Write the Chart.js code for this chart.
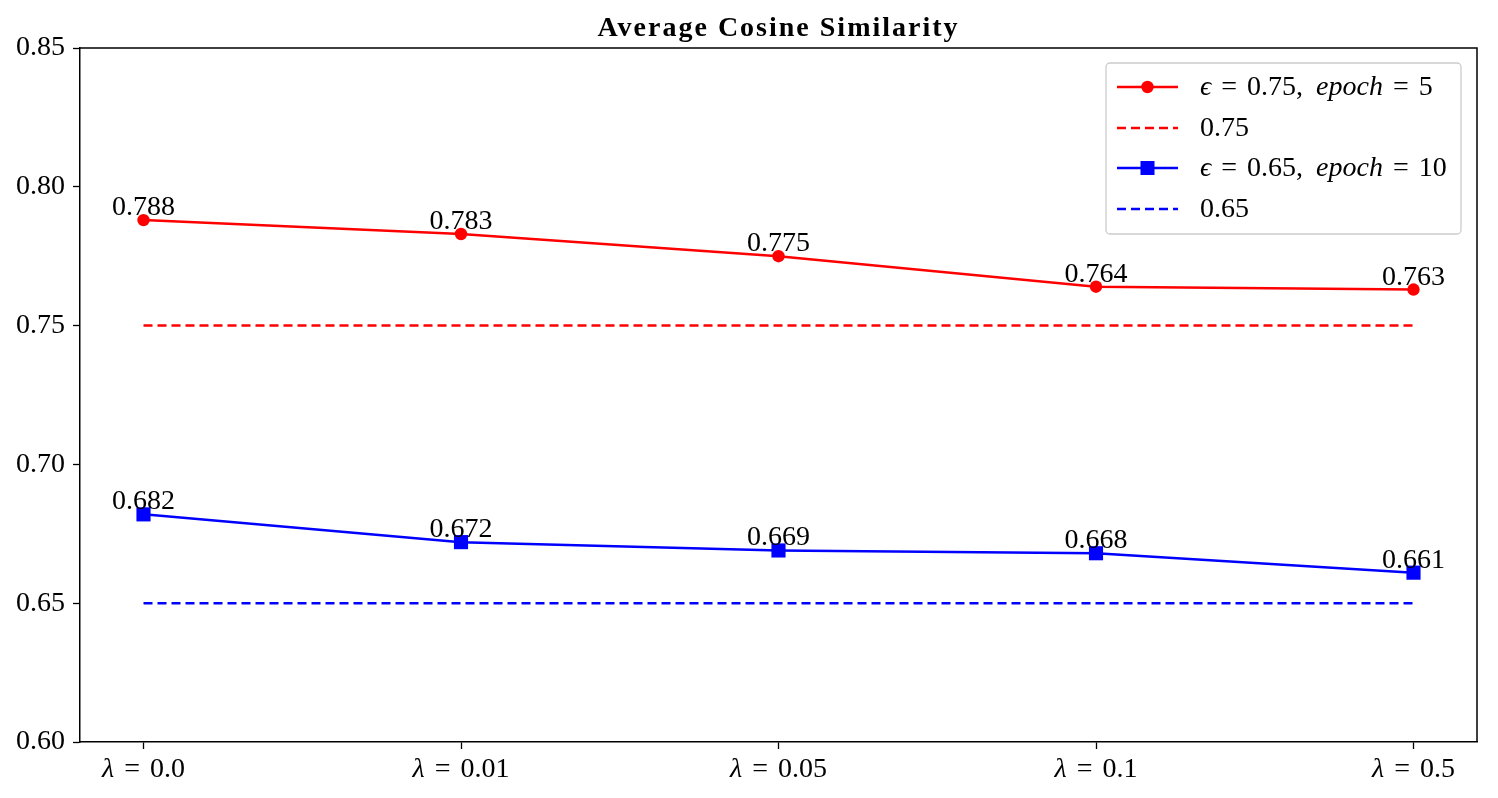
<!DOCTYPE html>
<html>
<head>
<meta charset="utf-8">
<script src="https://cdn.jsdelivr.net/npm/chart.js@4.4.1/dist/chart.umd.min.js"></script>
<style>
html,body{margin:0;padding:0;background:#fff;}
canvas{display:block;}
</style>
</head>
<body>
<canvas id="c" width="1498" height="798"></canvas>
<script>
// ---- data ----
const lambdaLabels = ['0.0', '0.01', '0.05', '0.1', '0.5'];
const series1Values = [0.788, 0.783, 0.775, 0.764, 0.763];   // eps=0.75, epoch=5
const series2Values = [0.682, 0.672, 0.669, 0.668, 0.661];   // eps=0.65, epoch=10
const threshold1 = 0.75;
const threshold2 = 0.65;
const yTicks = [0.60, 0.65, 0.70, 0.75, 0.80, 0.85];
const titleText = 'Average Cosine Similarity';

const SERIF = "'Liberation Serif', 'DejaVu Serif', serif";
const FS = 28;
const GAP = 10;
const LW = 2.5;

const pts = arr => arr.map((v, i) => ({x: i, y: v}));
const flat = v => lambdaLabels.map((_, i) => ({x: i, y: v}));

// rich-text helper: items are [text, italic] or a number (gap in px)
function drawRich(ctx, segs, x, y, align) {
  let total = 0;
  const widths = segs.map(s => {
    if (typeof s === 'number') { total += s; return s; }
    ctx.font = (s[1] ? 'italic ' : '') + FS + 'px ' + SERIF;
    const w = ctx.measureText(s[0]).width; total += w; return w;
  });
  let cx = align === 'center' ? x - total / 2 : x;
  segs.forEach((s, k) => {
    if (typeof s !== 'number') {
      ctx.font = (s[1] ? 'italic ' : '') + FS + 'px ' + SERIF;
      ctx.textAlign = 'left';
      ctx.fillText(s[0], cx, y);
    }
    cx += widths[k];
  });
}

const epsSegs = (eps, ep) => [['\u03F5', true], GAP, ['=', false], GAP, [eps + ',', false], GAP + 3, ['epoch', true], GAP, ['=', false], GAP, [ep, false]];

const legendItems = [
  {segs: epsSegs('0.75', '5'), color: '#ff0000', dash: false, marker: 'circle'},
  {segs: [['0.75', false]], color: '#ff0000', dash: true, marker: null},
  {segs: epsSegs('0.65', '10'), color: '#0000ff', dash: false, marker: 'rect'},
  {segs: [['0.65', false]], color: '#0000ff', dash: true, marker: null}
];

const customDraw = {
  id: 'customDraw',
  afterDraw(chart) {
    const ctx = chart.ctx;
    const a = chart.chartArea;
    const xs = chart.scales.x, ys = chart.scales.y;
    ctx.save();
    // top and right spines
    ctx.strokeStyle = '#000'; ctx.lineWidth = 1.5;
    ctx.beginPath();
    ctx.moveTo(a.left, a.top); ctx.lineTo(a.right, a.top); ctx.lineTo(a.right, a.bottom);
    ctx.stroke();
    // title
    ctx.fillStyle = '#000';
    ctx.font = 'bold 28px ' + SERIF;
    if ('letterSpacing' in ctx) ctx.letterSpacing = '2px';
    ctx.textAlign = 'center'; ctx.textBaseline = 'alphabetic';
    ctx.fillText(titleText, (a.left + a.right) / 2, 36);
    if ('letterSpacing' in ctx) ctx.letterSpacing = '0px';
    // x tick labels
    lambdaLabels.forEach((lab, i) => {
      drawRich(ctx, [['\u03BB', true], GAP, ['=', false], GAP, [lab, false]], xs.getPixelForValue(i), a.bottom + 35, 'center');
    });
    // data labels
    ctx.font = FS + 'px ' + SERIF;
    ctx.textAlign = 'center';
    [series1Values, series2Values].forEach(arr => {
      arr.forEach((v, i) => {
        ctx.fillText(v.toFixed(3), xs.getPixelForValue(i), ys.getPixelForValue(v) - 5);
      });
    });
    // legend
    const lx = 1106, ly = 63, lw = 355, lh = 171;
    ctx.fillStyle = 'rgba(255,255,255,0.8)';
    ctx.strokeStyle = '#cccccc'; ctx.lineWidth = 1.3;
    ctx.beginPath();
    if (ctx.roundRect) ctx.roundRect(lx, ly, lw, lh, 4); else ctx.rect(lx, ly, lw, lh);
    ctx.fill(); ctx.stroke();
    const rows = [87, 128, 168, 209];
    legendItems.forEach((it, k) => {
      const y = rows[k];
      ctx.strokeStyle = it.color; ctx.lineWidth = LW;
      ctx.setLineDash(it.dash ? [9, 5] : []);
      ctx.beginPath(); ctx.moveTo(1117, y); ctx.lineTo(1178, y); ctx.stroke();
      ctx.setLineDash([]);
      ctx.fillStyle = it.color;
      if (it.marker === 'circle') { ctx.beginPath(); ctx.arc(1147.5, y, 6.2, 0, Math.PI * 2); ctx.fill(); }
      if (it.marker === 'rect') { ctx.fillRect(1147.5 - 7, y - 7, 14, 14); }
      ctx.fillStyle = '#000';
      ctx.textBaseline = 'middle';
      drawRich(ctx, it.segs, 1200, y + 1, 'left');
      ctx.textBaseline = 'alphabetic';
    });
    ctx.restore();
  }
};

new Chart(document.getElementById('c'), {
  type: 'line',
  data: {
    datasets: [
      {label: 'eps=0.75, epoch=5', data: pts(series1Values), borderColor: '#ff0000', backgroundColor: '#ff0000',
       borderWidth: LW, pointStyle: 'circle', pointRadius: 6.2, pointHoverRadius: 6.2, pointBorderWidth: 0, tension: 0},
      {label: '0.75', data: flat(threshold1), borderColor: '#ff0000', borderWidth: LW, borderDash: [9, 5], pointRadius: 0, tension: 0},
      {label: 'eps=0.65, epoch=10', data: pts(series2Values), borderColor: '#0000ff', backgroundColor: '#0000ff',
       borderWidth: LW, pointStyle: 'rect', pointRadius: 10, pointHoverRadius: 10, pointBorderWidth: 0, tension: 0},
      {label: '0.65', data: flat(threshold2), borderColor: '#0000ff', borderWidth: LW, borderDash: [9, 5], pointRadius: 0, tension: 0}
    ]
  },
  options: {
    responsive: false,
    devicePixelRatio: 1,
    animation: false,
    events: [],
    layout: {padding: {top: 48, right: 21, left: 0, bottom: 0}},
    plugins: {legend: {display: false}, title: {display: false}, tooltip: {enabled: false}},
    scales: {
      x: {
        type: 'linear', min: -0.2, max: 4.2,
        afterBuildTicks: s => { s.ticks = lambdaLabels.map((_, i) => ({value: i})); },
        ticks: {color: 'rgba(0,0,0,0)', font: {size: 22, family: SERIF}, callback: (v) => lambdaLabels[v] !== undefined ? '\u03BB = ' + lambdaLabels[v] : ''},
        grid: {drawOnChartArea: false, drawTicks: true, tickLength: 7, tickColor: '#000', tickWidth: 1.3},
        border: {display: true, color: '#000', width: 1.5},
        afterFit: s => { s.height = 56; }
      },
      y: {
        type: 'linear', min: 0.60, max: 0.85,
        afterBuildTicks: s => { s.ticks = yTicks.map(v => ({value: v})); },
        ticks: {color: '#000', font: {size: FS, family: SERIF}, padding: 8, callback: v => Number(v).toFixed(2)},
        grid: {drawOnChartArea: false, drawTicks: true, tickLength: 7, tickColor: '#000', tickWidth: 1.3},
        border: {display: true, color: '#000', width: 1.5},
        afterFit: s => { s.width = 80; }
      }
    }
  },
  plugins: [customDraw]
});
</script>
</body>
</html>
